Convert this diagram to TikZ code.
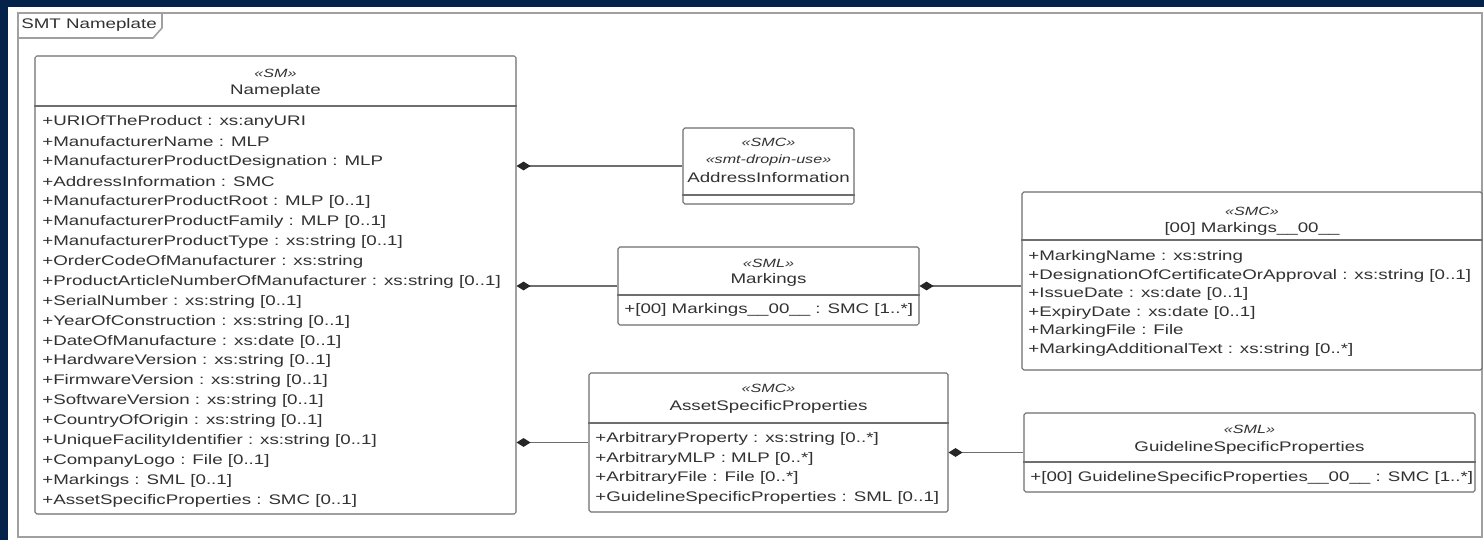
\documentclass[tikz,border=0pt]{standalone}
\usepackage{fontspec}
\setmainfont{Liberation Sans}[FakeStretch=1.35]
\usetikzlibrary{arrows.meta,fit}
\definecolor{navy}{RGB}{4,34,74}
\definecolor{umlgray}{RGB}{110,110,110}
\definecolor{umltext}{RGB}{50,50,50}
\definecolor{framegray}{RGB}{160,160,160}

\begin{document}
\begin{tikzpicture}[x=0.02cm,y=-0.02cm,
  font=\fontsize{7.9}{9}\selectfont, text=umltext,
  umlbox/.style={draw=umlgray, line width=0.6pt, rounded corners=1pt, inner sep=0pt, fill=white},
  stereo/.style={inner sep=0pt, font=\fontsize{6.8}{8}\selectfont\itshape},
  head/.style={inner sep=0pt},
  attr/.style={right, inner sep=0pt},
  divider/.style={draw=umlgray, line width=0.6pt},
  comp/.style={draw=umlgray, line width=0.7pt, {Diamond[length=8pt,width=5pt,color=black!85,fill=black!85]}-}]
% background and frame
\fill[navy] (0,0) rectangle (1484,540);
\fill[white] (8,7) rectangle (1484,540);
\draw[framegray, line width=1.1pt] (18,13) rectangle (1482,537);
\draw[framegray, line width=0.9pt] (18,38) -- (153,38) -- (162,28) -- (162,13);
\node[attr] (title) at (21,25) {SMT Nameplate};

% Nameplate
\node[umlbox, fit={(35,56) (516,514)}] (np) {};
\node[stereo] (np-st) at (np.north |- 0,73) {«SM»};
\node[head] (np-nm) at (np.north |- 0,91) {Nameplate};
\draw[divider] (np.west |- 0,106) -- (np.east |- 0,106);
\foreach \t [count=\i from 0] in {{+URIOfTheProduct : xs:anyURI},
  {+ManufacturerName : MLP},
  {+ManufacturerProductDesignation : MLP},
  {+AddressInformation : SMC},
  {+ManufacturerProductRoot : MLP [0..1]},
  {+ManufacturerProductFamily : MLP [0..1]},
  {+ManufacturerProductType : xs:string [0..1]},
  {+OrderCodeOfManufacturer : xs:string},
  {+ProductArticleNumberOfManufacturer : xs:string [0..1]},
  {+SerialNumber : xs:string [0..1]},
  {+YearOfConstruction : xs:string [0..1]},
  {+DateOfManufacture : xs:date [0..1]},
  {+HardwareVersion : xs:string [0..1]},
  {+FirmwareVersion : xs:string [0..1]},
  {+SoftwareVersion : xs:string [0..1]},
  {+CountryOfOrigin : xs:string [0..1]},
  {+UniqueFacilityIdentifier : xs:string [0..1]},
  {+CompanyLogo : File [0..1]},
  {+Markings : SML [0..1]},
  {+AssetSpecificProperties : SMC [0..1]}}
  \node[attr] (np-\i) at (42,122+\i*19.95) {\t};

% AddressInformation
\node[umlbox, fit={(683,128) (854,204)}] (addr) {};
\node[stereo] (addr-st) at (addr.north |- 0,142) {«SMC»};
\node[stereo] (addr-st2) at (addr.north |- 0,160) {«smt-dropin-use»};
\node[head] (addr-nm) at (addr.north |- 0,178) {AddressInformation};
\draw[divider] (addr.west |- 0,195) -- (addr.east |- 0,195);

% Markings
\node[umlbox, fit={(618,247) (919,325)}] (mk) {};
\node[stereo] (mk-st) at (mk.north |- 0,263) {«SML»};
\node[head] (mk-nm) at (mk.north |- 0,280) {Markings};
\draw[divider] (mk.west |- 0,295) -- (mk.east |- 0,295);
\node[attr] (mk-0) at (624,310) {+[00] Markings\_\_00\_\_ : SMC [1..*]};

% Markings__00__
\node[umlbox, fit={(1022,192) (1482,370)}] (mko) {};
\node[stereo] (mko-st) at (mko.north |- 0,211) {«SMC»};
\node[head] (mko-nm) at (mko.north |- 0,229) {[00] Markings\_\_00\_\_};
\draw[divider] (mko.west |- 0,240) -- (mko.east |- 0,240);
\foreach \t [count=\i from 0] in {{+MarkingName : xs:string},
  {+DesignationOfCertificateOrApproval : xs:string [0..1]},
  {+IssueDate : xs:date [0..1]},
  {+ExpiryDate : xs:date [0..1]},
  {+MarkingFile : File},
  {+MarkingAdditionalText : xs:string [0..*]}}
  \node[attr] (mko-\i) at (1028,257+\i*18.6) {\t};

% AssetSpecificProperties
\node[umlbox, fit={(589,373) (948,512)}] (asp) {};
\node[stereo] (asp-st) at (asp.north |- 0,388) {«SMC»};
\node[head] (asp-nm) at (asp.north |- 0,407) {AssetSpecificProperties};
\draw[divider] (asp.west |- 0,423) -- (asp.east |- 0,423);
\foreach \t [count=\i from 0] in {{+ArbitraryProperty : xs:string [0..*]},
  {+ArbitraryMLP : MLP [0..*]},
  {+ArbitraryFile : File [0..*]},
  {+GuidelineSpecificProperties : SML [0..1]}}
  \node[attr] (asp-\i) at (595,439+\i*19.7) {\t};

% GuidelineSpecificProperties
\node[umlbox, fit={(1024,413) (1475,492)}] (gsp) {};
\node[stereo] (gsp-st) at (gsp.north |- 0,429) {«SML»};
\node[head] (gsp-nm) at (gsp.north |- 0,448) {GuidelineSpecificProperties};
\draw[divider] (gsp.west |- 0,462) -- (gsp.east |- 0,462);
\node[attr] (gsp-0) at (1030,478) {+[00] GuidelineSpecificProperties\_\_00\_\_ : SMC [1..*]};

% composition connectors
\draw[comp] (np.east |- addr.west) -- (addr.west);
\draw[comp] (np.east |- mk.west) -- (mk.west);
\draw[comp] (np.east |- asp.west) -- (asp.west);
\draw[comp] (mk.east) -- (mk.east -| mko.west);
\draw[comp] (asp.east |- gsp.west) -- (gsp.west);
\end{tikzpicture}
\end{document}
